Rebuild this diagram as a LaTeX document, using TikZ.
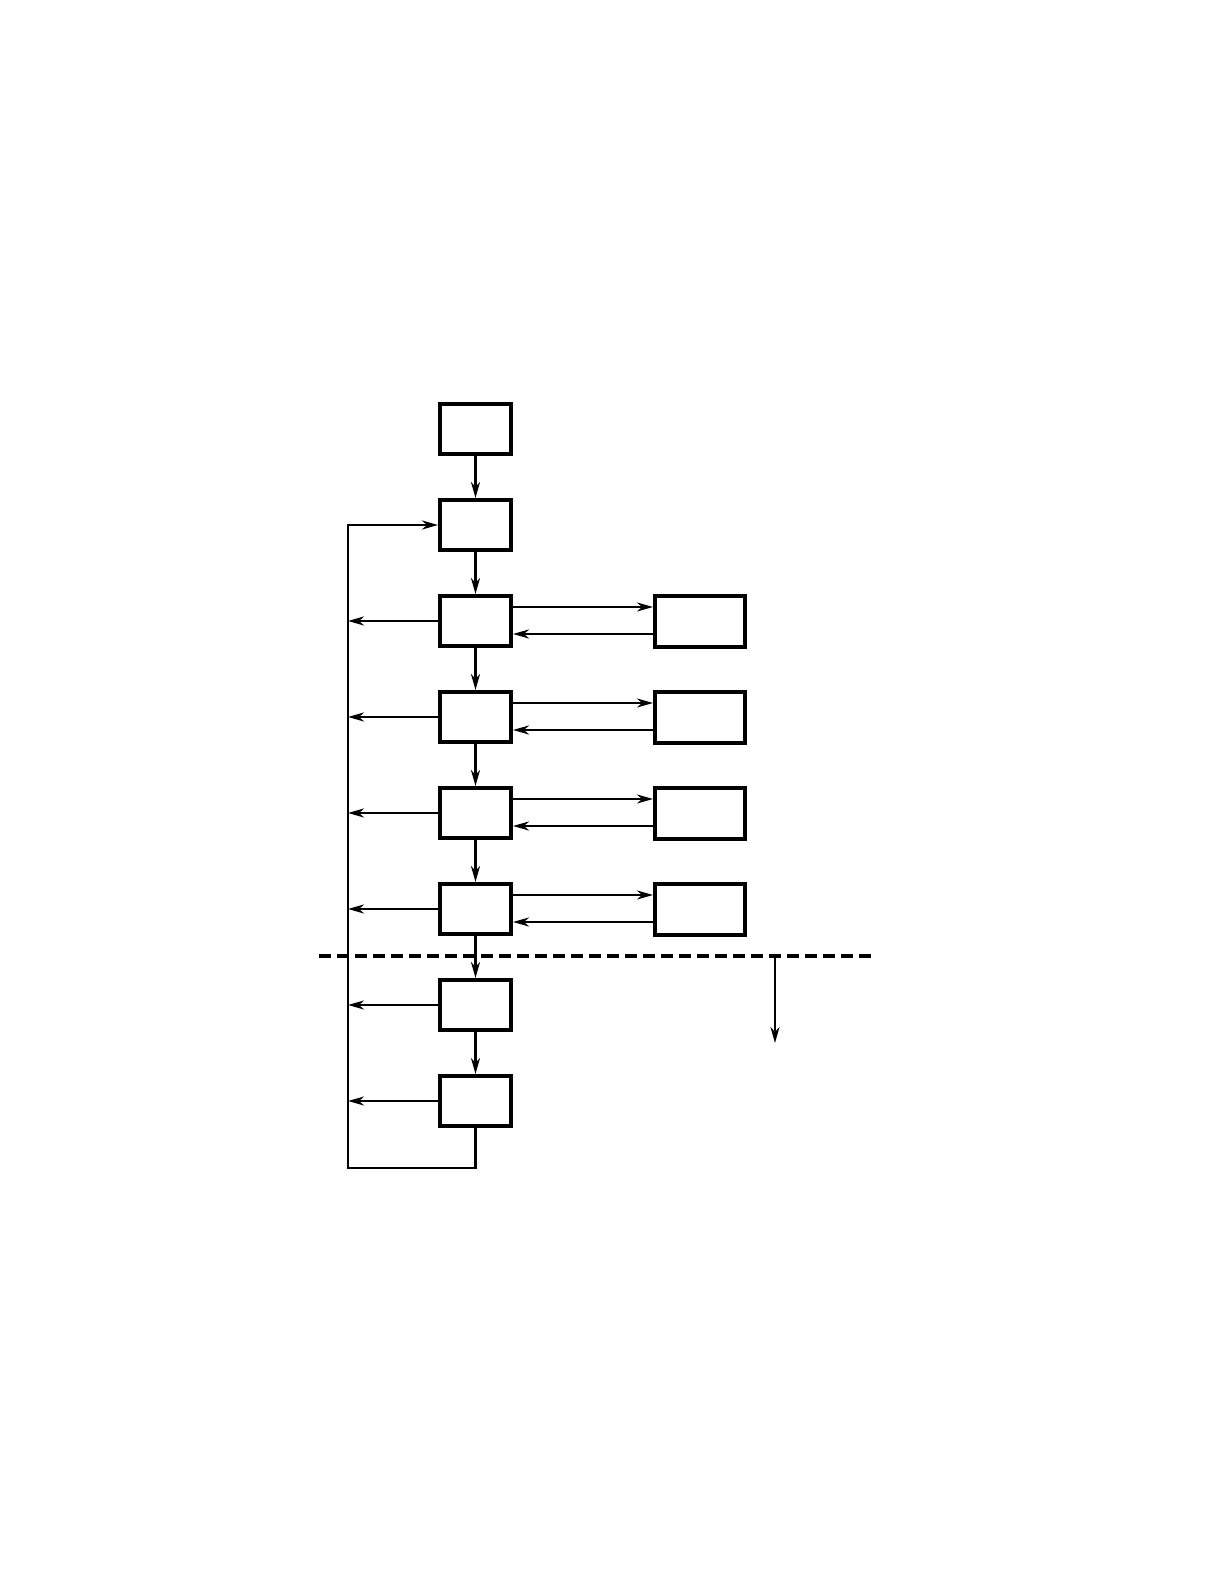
\documentclass[tikz,border=0pt]{standalone}
\usetikzlibrary{positioning, arrows.meta}
\begin{document}
\begin{tikzpicture}[
    x=0.5pt, y=-0.5pt,
    >={Stealth[length=8pt, width=4.5pt, inset=2.5pt]},
    stage/.style={rectangle, draw=black, line width=2pt, minimum width=35.5pt, minimum height=25pt},
    side/.style={rectangle, draw=black, line width=2pt, minimum width=45pt, minimum height=25.5pt},
    arrow/.style={->, line width=1.1pt},
    link/.style={line width=1.1pt},
    cut/.style={line width=2pt, dash pattern=on 6pt off 3pt}
]
\useasboundingbox (0,0) rectangle (1224,1584);
\node[stage] (start) at (475.5,429) {};
\node[stage, below=21pt of start] (s1) {};
\node[stage, below=21pt of s1] (s2) {};
\node[stage, below=21pt of s2] (s3) {};
\node[stage, below=21pt of s3] (s4) {};
\node[stage, below=21pt of s4] (s5) {};
\node[stage, below=21pt of s5] (s6) {};
\node[stage, below=21pt of s6] (s7) {};
\node[side, right=70pt of s2] (r2) {};
\node[side, right=70pt of s3] (r3) {};
\node[side, right=70pt of s4] (r4) {};
\node[side, right=70pt of s5] (r5) {};
\coordinate (loopx) at (348,0);
\coordinate (loopbot) at ([yshift=-20pt]s7.south);
\coordinate (cutL) at (319,956);
\coordinate (cutR) at (874,956);
\coordinate (out) at (775,1043);
% dashed boundary
\draw[cut] (cutL) -- (cutR);
\draw[arrow] (out |- cutL) -- (out);
% main column
\draw[arrow] (start) -- (s1);
\draw[arrow] (s1) -- (s2);
\draw[arrow] (s2) -- (s3);
\draw[arrow] (s3) -- (s4);
\draw[arrow] (s4) -- (s5);
\draw[arrow] (s5) -- (s6);
\draw[arrow] (s6) -- (s7);
% side exchanges
\draw[arrow] ([yshift=7pt]s2.east) -- ([yshift=7pt]r2.west);
\draw[arrow] ([yshift=-6.5pt]r2.west) -- ([yshift=-6.5pt]s2.east);
\draw[arrow] ([yshift=7pt]s3.east) -- ([yshift=7pt]r3.west);
\draw[arrow] ([yshift=-6.5pt]r3.west) -- ([yshift=-6.5pt]s3.east);
\draw[arrow] ([yshift=7pt]s4.east) -- ([yshift=7pt]r4.west);
\draw[arrow] ([yshift=-6.5pt]r4.west) -- ([yshift=-6.5pt]s4.east);
\draw[arrow] ([yshift=7pt]s5.east) -- ([yshift=7pt]r5.west);
\draw[arrow] ([yshift=-6.5pt]r5.west) -- ([yshift=-6.5pt]s5.east);
% feedback loop
\draw[arrow] (s2.west) -- (s2.west -| loopx);
\draw[arrow] (s3.west) -- (s3.west -| loopx);
\draw[arrow] (s4.west) -- (s4.west -| loopx);
\draw[arrow] (s5.west) -- (s5.west -| loopx);
\draw[arrow] (s6.west) -- (s6.west -| loopx);
\draw[arrow] (s7.west) -- (s7.west -| loopx);
\draw[arrow] (s7.south) -- (loopbot) -- (loopbot -| loopx) -- (s1.west -| loopx) -- (s1.west);
\end{tikzpicture}
\end{document}
